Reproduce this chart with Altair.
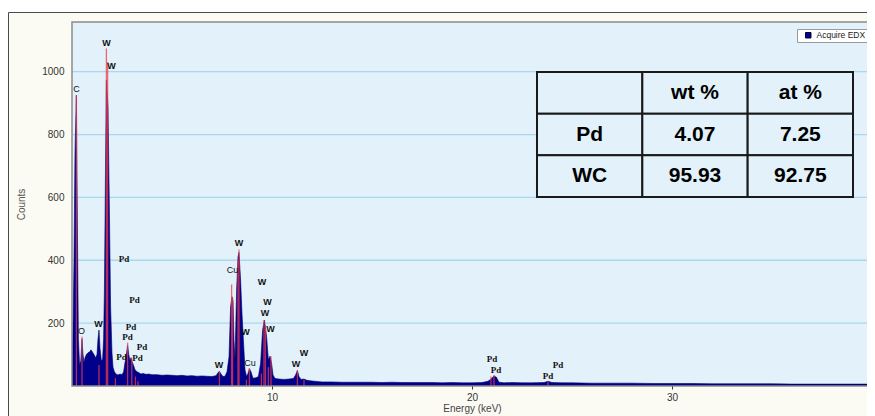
import altair as alt
import pandas as pd

# ---------------- data ----------------
energy = [0.00, 0.05, 0.10, 0.15, 0.22, 0.27, 0.32, 0.38, 0.44, 0.50, 0.55, 0.60, 0.65, 0.72,
          0.80, 0.88, 0.95, 1.02, 1.10, 1.18, 1.25, 1.30, 1.35, 1.40, 1.47, 1.53, 1.58, 1.62,
          1.67, 1.72, 1.80, 1.87, 1.93, 2.00, 2.05, 2.12, 2.20, 2.30, 2.40, 2.50, 2.58, 2.65,
          2.72, 2.78, 2.84, 2.90, 2.95, 3.00, 3.08, 3.15, 3.25, 3.35, 3.45, 3.55, 3.70, 3.85,
          4.00, 4.25, 4.50, 4.75, 5.00, 5.25, 5.50, 5.75, 6.00, 6.25, 6.50, 6.75, 7.00, 7.20,
          7.30, 7.37, 7.45, 7.55, 7.65, 7.75, 7.85, 7.93, 8.00, 8.05, 8.10, 8.15, 8.23, 8.30,
          8.35, 8.43, 8.50, 8.57, 8.65, 8.73, 8.80, 8.87, 8.95, 9.05, 9.20, 9.32, 9.43, 9.53,
          9.62, 9.73, 9.82, 9.90, 9.98, 10.05, 10.15, 10.35, 10.60, 10.85, 11.07, 11.18, 11.27,
          11.35, 11.45, 11.60, 11.75, 12.00, 12.50, 13.00, 13.50, 14.00, 14.50, 15.00, 15.50,
          16.00, 16.50, 17.00, 17.50, 18.00, 18.50, 19.00, 19.50, 20.00, 20.50, 20.80, 20.95,
          21.10, 21.22, 21.35, 21.60, 22.00, 22.50, 23.00, 23.60, 23.80, 24.00, 24.50, 25.00,
          26.00, 27.00, 28.00, 29.00, 30.00, 31.00, 32.00, 33.00, 34.00, 35.00, 36.00, 37.00,
          38.00, 39.00, 40.00]
counts = [60, 190, 400, 745, 925, 506, 150, 67, 80, 150, 100, 75, 90, 100,
          106, 108, 115, 108, 100, 90, 100, 150, 178, 120, 80, 85, 150, 300,
          655, 973, 888, 560, 252, 105, 60, 45, 38, 35, 38, 36, 45, 75,
          100, 130, 100, 80, 90, 78, 65, 52, 45, 42, 38, 40, 37, 38,
          36, 36, 34, 35, 34, 33, 34, 32, 33, 31, 32, 31, 30, 33,
          42, 47, 38, 30, 31, 45, 93, 252, 284, 270, 146, 83, 305, 411,
          425, 337, 231, 146, 51, 30, 40, 55, 45, 25, 26, 30, 72, 178,
          210, 157, 83, 95, 72, 35, 24, 22, 21, 22, 24, 35, 49,
          30, 21, 22, 18, 16, 13, 13, 12, 12, 12, 12, 11,
          12, 11, 11, 11, 11, 10, 11, 10, 10, 11, 15, 22,
          32, 28, 12, 10, 11, 10, 10, 11, 15, 11, 10, 10,
          9, 9, 9, 8, 8, 8, 7, 7, 7, 7, 6, 6,
          6, 6, 6]

line_energy = [0.22, 0.50, 1.35, 1.72, 1.78, 2.17, 2.78, 2.99, 3.17, 3.30, 7.37, 7.98, 8.03,
               8.30, 8.35, 8.72, 8.87, 9.47, 9.60, 9.67, 9.82, 9.95, 11.27, 11.60, 20.95,
               21.10, 23.80]
line_height = [925, 157, 67, 1074, 1031, 25, 138, 90, 30, 15, 46, 323, 280,
               400, 434, 20, 57, 40, 210, 190, 60, 95, 51, 20, 30,
               35, 14]

label_text = ["C", "W", "W", "O", "W", "Pd", "Pd", "Pd", "Pd", "Pd", "Pd", "Pd",
              "W", "W", "Cu", "W", "W", "W", "W", "W", "Cu", "W", "W",
              "Pd", "Pd", "Pd", "Pd"]
label_energy = [0.23, 1.73, 1.98, 0.47, 1.33, 2.60, 3.13, 2.95, 2.77, 3.50, 2.48, 3.28,
                7.35, 8.35, 8.03, 9.50, 9.78, 9.65, 8.68, 9.93, 8.90, 11.20, 11.60,
                21.00, 21.20, 24.30, 23.80]
label_counts = [944, 1091, 1017, 175, 196, 405, 273, 187, 155, 123, 91, 89,
                67, 454, 368, 331, 266, 233, 171, 180, 74, 69, 104,
                86, 51, 66, 33]

grid_counts = [200, 400, 600, 800, 1000]
x_ticks = [10, 20, 30]

table_header = ["", "wt %", "at %"]
table_rows = ["Pd", "WC"]
wt_pct = ["4.07", "95.93"]
at_pct = ["7.25", "92.75"]
series_name = "Acquire EDX"

# ---------------- styling ----------------
W, H = 795, 364
NAVY = "#00008B"
PLOT_BG = "#E2F1FA"
FRAME_BG = "#FBFBF4"
GRID = "#A8D8EE"
FONT = "Liberation Sans"

xs = alt.Scale(domain=[0, 39.75], nice=False, zero=False)
ys = alt.Scale(domain=[0, 1158], nice=False, zero=False)

one = pd.DataFrame({"d": [0]})

top_strip = alt.Chart(one).mark_rect(fill="white").encode(
    x=alt.value(-70), x2=alt.value(W + 40), y=alt.value(-20), y2=alt.value(-10))
frame = alt.Chart(one).mark_rect(fillOpacity=0, stroke="#4a4a4a", strokeWidth=1).encode(
    x=alt.value(-63.5), x2=alt.value(W + 40), y=alt.value(-9.5), y2=alt.value(H + 80))
plot_bg = alt.Chart(one).mark_rect(fill=PLOT_BG).encode(
    x=alt.value(0), x2=alt.value(W + 10), y=alt.value(0), y2=alt.value(H))
plot_border = alt.Chart(one).mark_rect(fillOpacity=0, stroke="#8c8c8c", strokeWidth=1.5).encode(
    x=alt.value(0), x2=alt.value(W + 10), y=alt.value(0), y2=alt.value(H))

spec_df = pd.DataFrame({"energy": energy, "counts": counts, "series": series_name})
lines_df = pd.DataFrame({"energy": line_energy, "height": line_height})
labels_df = pd.DataFrame({"energy": label_energy, "counts": label_counts, "text": label_text})
grid_df = pd.DataFrame({"counts": grid_counts})

grid = alt.Chart(grid_df).mark_rule(color=GRID, strokeWidth=1.3).encode(
    y=alt.Y("counts:Q", scale=ys, axis=None))

area = alt.Chart(spec_df).mark_area(interpolate="linear", stroke="#00006A", strokeWidth=0.6,
                                    clip=True).encode(
    x=alt.X("energy:Q", scale=xs,
            axis=alt.Axis(values=x_ticks, title="Energy (keV)", grid=False, domain=False,
                          ticks=True, tickSize=3, tickColor="#333333", labelFontSize=10,
                          labelColor="#333333", labelFont=FONT, labelPadding=3,
                          titleFont=FONT, titleFontSize=10, titleFontWeight="normal",
                          titleColor="#444444", titlePadding=1, titleX=400, zindex=1)),
    y=alt.Y("counts:Q", scale=ys,
            axis=alt.Axis(values=grid_counts, format="d", title="Counts", grid=False,
                          domain=False, ticks=False, labelPadding=8, labelFontSize=10,
                          labelColor="#333333", labelFont=FONT, titleFont=FONT,
                          titleFontSize=10, titleFontWeight="normal", titleColor="#555555",
                          titleX=-51, titleY=182, titleAngle=270, titleBaseline="middle",
                          zindex=1)),
    fill=alt.Fill("series:N", scale=alt.Scale(range=[NAVY]),
                  legend=alt.Legend(title=None, orient="none", legendX=725, legendY=7,
                                    symbolType="square", symbolSize=30,
                                    symbolStrokeColor="#000033", symbolStrokeWidth=1,
                                    labelFont=FONT, labelFontSize=8.5, labelColor="#222222",
                                    padding=2, symbolOffset=5, labelOffset=4,
                                    strokeColor="#9a9a9a", fillColor="#ffffff", zindex=2)),
)

rules = alt.Chart(lines_df).mark_rule(color="#F03A48", opacity=0.75, strokeWidth=1.3).encode(
    x=alt.X("energy:Q", scale=xs, axis=None),
    y=alt.Y("height:Q", scale=ys, axis=None),
    y2=alt.datum(0))

def label_layer(cond, font, weight, size):
    return alt.Chart(labels_df).transform_filter(cond).mark_text(
        font=font, fontWeight=weight, fontSize=size, color="#111111",
        align="center", baseline="middle").encode(
        x=alt.X("energy:Q", scale=xs, axis=None),
        y=alt.Y("counts:Q", scale=ys, axis=None),
        text="text:N")

lab_pd = label_layer(alt.datum.text == "Pd", "Liberation Serif", "bold", 9)
lab_w = label_layer(alt.datum.text == "W", FONT, "bold", 9)
lab_other = label_layer((alt.datum.text != "Pd") & (alt.datum.text != "W"), FONT, "normal", 9)

# ---------------- table ----------------
cells = []
table_body = [table_header] + [[r, w, a] for r, w, a in zip(table_rows, wt_pct, at_pct)]
for ri, row in enumerate(table_body):
    for ci, txt in enumerate(row):
        cells.append({"c0": ci, "c1": ci + 1, "cm": ci + 0.5,
                      "r0": ri, "r1": ri + 1, "rm": ri + 0.5, "text": txt})
tdf = pd.DataFrame(cells)
tx = alt.Scale(domain=[0, 3], range=[465, 781], nice=False, zero=False)
ty = alt.Scale(domain=[0, 3], range=[50, 175], nice=False, zero=False)

trect = alt.Chart(tdf).mark_rect(fill=PLOT_BG, stroke="#1a1a1a", strokeWidth=2).encode(
    x=alt.X("c0:Q", scale=tx, axis=None), x2="c1:Q",
    y=alt.Y("r0:Q", scale=ty, axis=None), y2="r1:Q")
ttext = alt.Chart(tdf).mark_text(font=FONT, fontWeight="bold", fontSize=21, color="#000000",
                                 align="center", baseline="middle").encode(
    x=alt.X("cm:Q", scale=tx, axis=None),
    y=alt.Y("rm:Q", scale=ty, axis=None),
    text="text:N")

chart = alt.layer(top_strip, frame, plot_bg, grid, area, rules, lab_pd, lab_w, lab_other,
                  trect, ttext, plot_border).resolve_scale(
    x="independent", y="independent").properties(
    width=W, height=H,
    padding={"left": 64, "top": 14, "right": 0, "bottom": 30},
    autosize=alt.AutoSizeParams(type="none"),
    background=FRAME_BG,
).configure_view(stroke=None)

chart.save("out.html", embed_options={"renderer": "svg", "actions": False})
